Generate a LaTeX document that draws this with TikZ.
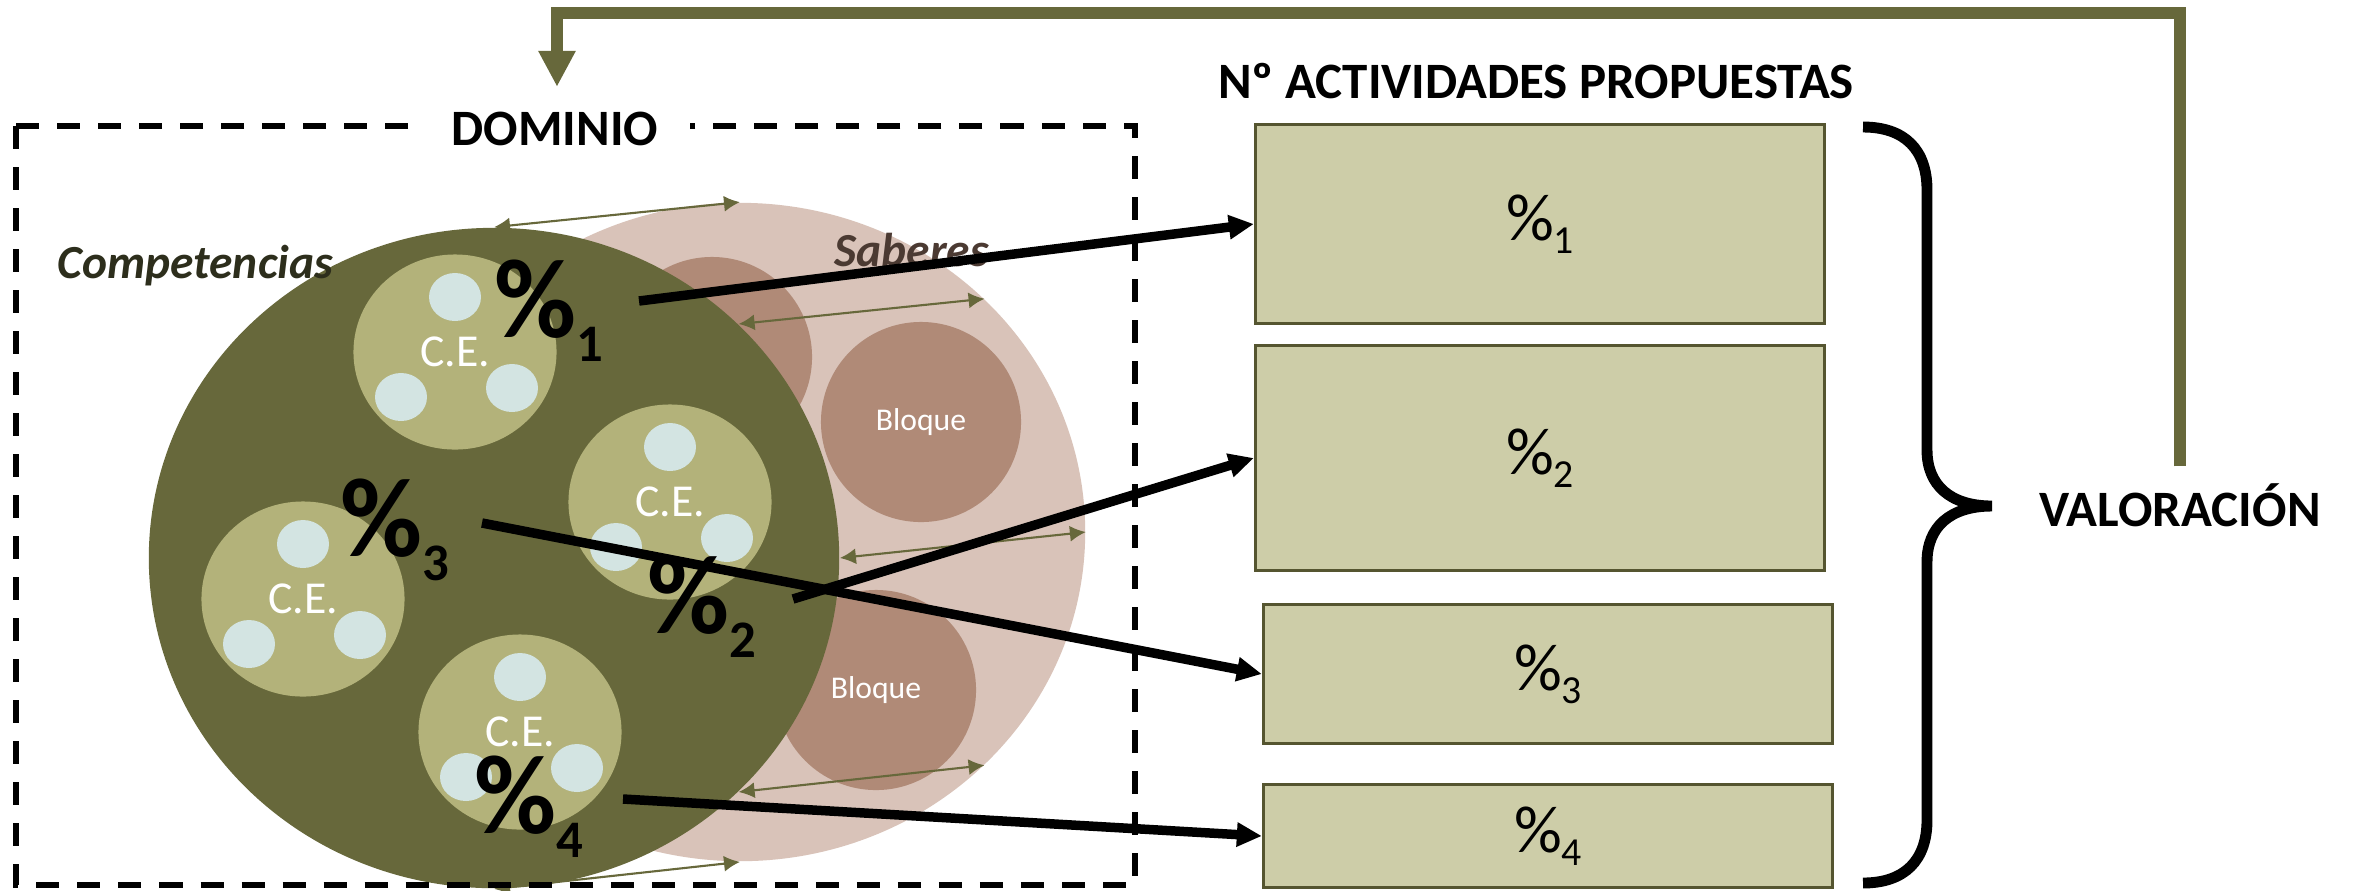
\documentclass[tikz,border=0pt]{standalone}
\usepackage{fontspec}
\setmainfont{Carlito}
\usepackage{tikz}
\usetikzlibrary{calc}
\usetikzlibrary{arrows.meta}
\usetikzlibrary{shapes}
\usetikzlibrary{positioning}

\definecolor{olivo}{RGB}{103,104,59}
\definecolor{olivoclaro}{RGB}{179,178,122}
\definecolor{celeste}{RGB}{211,228,226}
\definecolor{rosa}{RGB}{217,195,185}
\definecolor{bloquec}{RGB}{176,138,119}
\definecolor{cajac}{RGB}{205,205,168}
\definecolor{bordec}{RGB}{85,85,48}
\definecolor{textoverde}{RGB}{45,46,28}
\definecolor{textomarron}{RGB}{75,58,50}

\newcommand\pcgrande[1]{{\fontsize{32}{32}\selectfont\bfseries\%\raisebox{-7pt}{\fontsize{15}{15}\selectfont#1}}}
\newcommand\pcchico[1]{{\fontsize{19}{19}\selectfont\%\raisebox{-3.7pt}{\fontsize{11.3}{11.3}\selectfont#1}}}

\begin{document}
\begin{tikzpicture}[x=0.01cm,y=-0.01cm,
  caja/.style={draw=bordec,line width=0.85pt,fill=cajac,minimum width=5.69cm,inner sep=0pt},
  cecirc/.style={ellipse,fill=olivoclaro,minimum width=2.03cm,minimum height=1.95cm,inner sep=0pt},
  cetexto/.style={text=white,font=\fontsize{13}{13}\selectfont,inner sep=0pt},
  bloquecirc/.style={circle,fill=bloquec,minimum size=2cm,inner sep=0pt,text=white,font=\fontsize{9}{9}\selectfont},
  titulo/.style={font=\bfseries\fontsize{14.5}{14.5}\selectfont,inner sep=0pt},
  flechanegra/.style={line width=2.7pt,-{Triangle[length=0.25cm,width=0.23cm]}},
  flechafina/.style={olivo,line width=0.6pt,{Latex[length=0.16cm,width=0.16cm]}-{Latex[length=0.16cm,width=0.16cm]}}]
\useasboundingbox (0,0) rectangle (2361,890);

\node[ellipse,fill=rosa,minimum width=6.9cm,minimum height=6.58cm,inner sep=0pt] (pnk) at (740,532) {};
\node[bloquecirc] (b0) at (712,357) {};
\node[bloquecirc] (b1) at (921,422) {Bloque};
\node[bloquecirc] (b2) at (876,690) {Bloque};
\node[ellipse,fill=olivo,minimum width=6.9cm,minimum height=6.6cm,inner sep=0pt] (olv) at (494,558) {};

\foreach \n/\x/\y in {1/455/352,2/670/502,3/303/599,4/520/732}{
  \node[cecirc] (ce\n) at (\x,\y) {};
  \foreach \dx/\dy in {0/-55,-54/45,57/36}
    \fill[celeste] ($(ce\n)+(\dx,\dy)$) ellipse [x radius=26,y radius=24];
  \path (ce\n) node[cetexto] {C.E.};
}

\node[anchor=base west,font=\bfseries\itshape\fontsize{13.5}{13.5}\selectfont,text=textoverde,inner sep=0pt] (comp) at (57,278) {Competencias};
\node[anchor=base west,font=\bfseries\itshape\fontsize{13.5}{13.5}\selectfont,text=textomarron,inner sep=0pt] (sab) at (834,266) {Saberes};

\node[anchor=base west,inner sep=0pt] (p1) at (494,337) {\pcgrande{1}};
\node[anchor=base west,inner sep=0pt] (p2) at (647,633) {\pcgrande{2}};
\node[anchor=base west,inner sep=0pt] (p3) at (340,556) {\pcgrande{3}};
\node[anchor=base west,inner sep=0pt] (p4) at (474,833) {\pcgrande{4}};

\foreach \a in {north,north east,east,south east,south}
  \draw[flechafina] (olv.\a) -- (pnk.\a);

\draw[line width=1.7pt,dash pattern=on 0.23cm off 0.18cm] (16,126) rectangle (1135,885);
\node[titulo,anchor=base,fill=white,inner xsep=9pt,inner ysep=3pt] (dom) at (555,145) {DOMINIO};

\node[titulo,anchor=base] (act) at (1536,98) {Nº ACTIVIDADES PROPUESTAS};
\node[caja,minimum height=1.98cm] (box1) at (1540,224) {\pcchico{1}};
\node[caja,minimum height=2.25cm] (box2) at (1540,458) {\pcchico{2}};
\node[caja,minimum height=1.38cm] (box3) at (1548,674) {\pcchico{3}};
\node[caja,minimum height=1.02cm] (box4) at (1548,836) {\pcchico{4}};

\coordinate (s1) at (639,301);
\coordinate (s2) at (793,599);
\coordinate (s3) at (482,523);
\coordinate (s4) at (623,799);
\draw[flechanegra] (s1) -- (box1.west);
\draw[flechanegra] (s2) -- (box2.west);
\draw[flechanegra] (s3) -- (box3.west);
\draw[flechanegra] (s4) -- (box4.west);

\draw[line width=3.1pt] (1863,127) .. controls (1905,127) and (1927,150) .. (1927,190) -- (1927,450)
  .. controls (1927,485) and (1950,506) .. (1992,506) .. controls (1950,506) and (1927,527) .. (1927,562)
  -- (1927,820) .. controls (1927,860) and (1905,883) .. (1863,883);
\node[titulo,anchor=base] (valor) at (2180,526) {VALORACIÓN};

\coordinate (esquina) at (557,13);
\draw[olivo,line width=3.4pt,-{Triangle[length=0.36cm,width=0.35cm]},shorten <=0.16cm,shorten >=0.135cm]
  (valor.north) |- (esquina) -- (esquina |- dom.north);
\end{tikzpicture}
\end{document}
